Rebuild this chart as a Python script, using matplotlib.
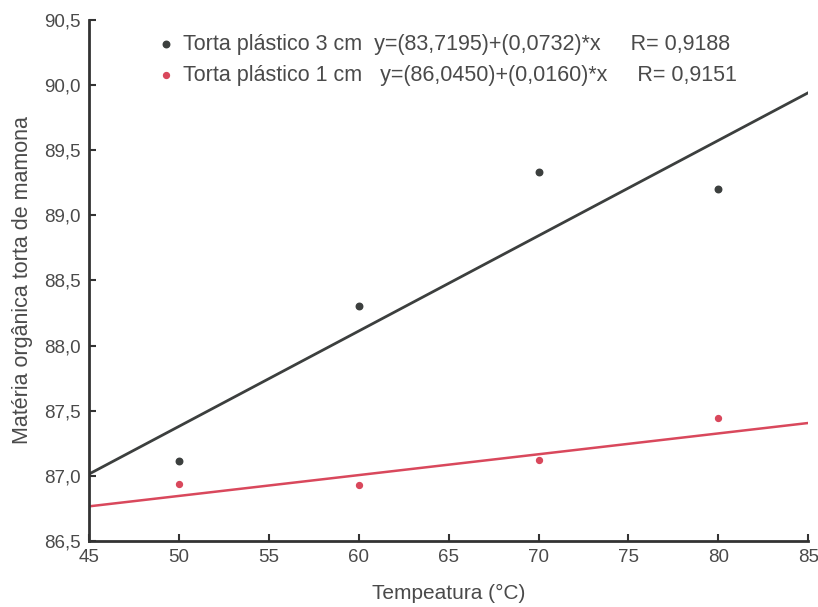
import matplotlib
matplotlib.use('Agg')
import matplotlib.pyplot as plt
import numpy as np

plt.rcParams['font.family'] = ['Liberation Sans', 'DejaVu Sans']

# dados
temperatura = [50, 60, 70, 80]
torta_3cm = [87.11, 88.30, 89.33, 89.20]
torta_1cm = [86.94, 86.93, 87.12, 87.44]

# coeficientes das regressões (do gráfico)
coef_3cm = (83.7195, 0.0732)
coef_1cm = (86.0450, 0.0160)

labels = ['Torta plástico 3 cm  y=(83,7195)+(0,0732)*x     R= 0,9188',
          'Torta plástico 1 cm   y=(86,0450)+(0,0160)*x     R= 0,9151']

x_ticks = [45, 50, 55, 60, 65, 70, 75, 80, 85]
y_ticks = [86.5, 87.0, 87.5, 88.0, 88.5, 89.0, 89.5, 90.0, 90.5]

cor_preta = '#3c3f3e'
cor_vermelha = '#d9485c'
cor_texto = '#4a4a4a'

fig = plt.figure(figsize=(8.18, 6.07), dpi=100)
ax = fig.add_axes([0.109, 0.109, 0.879, 0.858])

xr = np.array([45, 85])
ax.plot(xr, coef_3cm[0] + coef_3cm[1] * xr, color=cor_preta, lw=2.0, zorder=2)
ax.plot(xr, coef_1cm[0] + coef_1cm[1] * xr, color=cor_vermelha, lw=1.8, zorder=2)

ax.scatter(temperatura, torta_3cm, s=22, color=cor_preta, zorder=3, label=labels[0])
ax.scatter(temperatura, torta_1cm, s=18, color=cor_vermelha, zorder=3, label=labels[1])

ax.set_xlim(45, 85)
ax.set_ylim(86.5, 90.5)
ax.set_xticks(x_ticks)
ax.set_yticks(y_ticks)
ax.set_yticklabels([f'{v:.1f}'.replace('.', ',') for v in y_ticks])

for s in ['top', 'right']:
    ax.spines[s].set_visible(False)
for s in ['left', 'bottom']:
    ax.spines[s].set_linewidth(2.0)
    ax.spines[s].set_color('#333333')

ax.tick_params(direction='in', length=5, width=1.5, color='#333333',
               labelsize=13.5, labelcolor=cor_texto, pad=6)

ax.set_xlabel('Tempeatura (°C)', fontsize=15, color=cor_texto, labelpad=13)
ax.set_ylabel('Matéria orgânica torta de mamona', fontsize=15.5, color=cor_texto, labelpad=8)

leg = ax.legend(loc='upper left', bbox_to_anchor=(0.08, 0.99), frameon=False,
                fontsize=15.5, handletextpad=0.3, labelspacing=0.45,
                handlelength=1.0, borderaxespad=0)
for t in leg.get_texts():
    t.set_color(cor_texto)

plt.savefig('out.png', dpi=100)
plt.close()
